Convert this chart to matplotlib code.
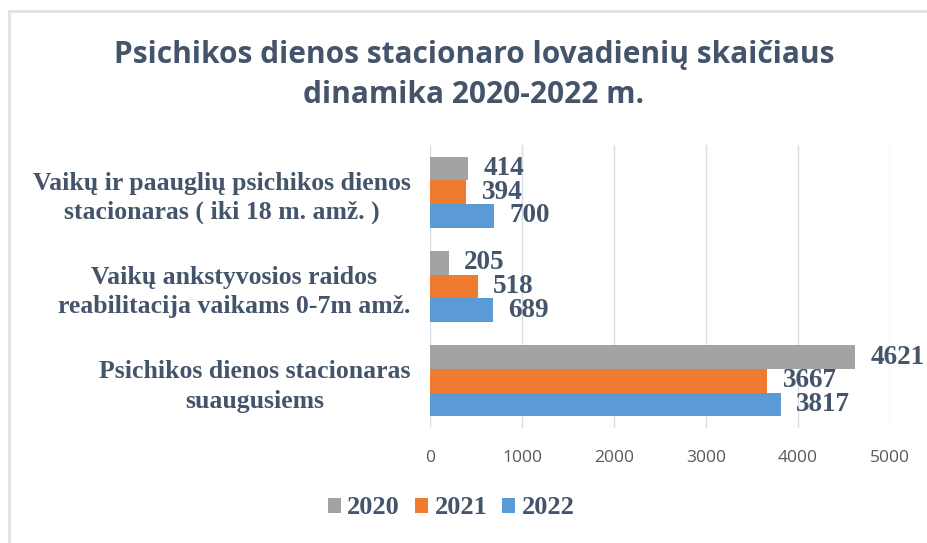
import matplotlib.pyplot as plt
import numpy as np
from matplotlib.patches import Rectangle
from matplotlib.font_manager import FontProperties

categories = [
    "Psichikos dienos stacionaras\nsuaugusiems",
    "Vaikų ankstyvosios raidos\nreabilitacija vaikams 0-7m amž.",
    "Vaikų ir paauglių psichikos dienos\nstacionaras ( iki 18 m. amž. )",
]
years = ["2020", "2021", "2022"]
v2020 = [4621, 205, 414]
v2021 = [3667, 518, 394]
v2022 = [3817, 689, 700]
xticks = [0, 1000, 2000, 3000, 4000, 5000]

colors = ["#A3A3A3", "#EE7B30", "#5B9BD5"]
text_col = "#44546A"
serif = "Liberation Serif"

fig = plt.figure(figsize=(9.28, 5.43), dpi=100)
ax = fig.add_axes([0.4634, 0.2118, 0.4957, 0.5212])

# chart border (cropped on right/bottom like the screenshot)
fig.patches.append(Rectangle((9 / 928, -0.05), 1.1, 1 - 11 / 543 + 0.05,
                             transform=fig.transFigure, fill=False,
                             edgecolor="#DDE2EA", lw=2))

y = np.arange(len(categories))
h = 0.25
series = [v2020, v2021, v2022]
offsets = [h, 0, -h]
for vals, off, c, lab in zip(series, offsets, colors, years):
    bars = ax.barh(y + off, vals, height=h, color=c, label=lab, zorder=3)
    for b, v in zip(bars, vals):
        ax.text(b.get_width() + 165, b.get_y() + h / 2, str(v),
                va="center", ha="left", fontsize=19.5, fontweight="bold",
                family=serif, color=text_col, clip_on=False)

ax.set_xlim(0, 5000)
ax.set_ylim(-0.5, 2.5)
ax.set_xticks(xticks)
ax.set_yticks(y)
ax.set_yticklabels(categories, fontsize=18.5, fontweight="bold", family=serif,
                   color=text_col, multialignment="center", linespacing=1.35)
ax.tick_params(axis="y", length=0, pad=14)
ax.tick_params(axis="x", length=0, pad=16, labelsize=12.5, labelcolor="#595959")
for t in ax.get_xticklabels():
    t.set_family("Open Sans")
ax.grid(axis="x", color="#D9DEE6", lw=1, zorder=0)
for s in ax.spines.values():
    s.set_visible(False)

fig.text(474 / 928, 1 - 75 / 543,
         "Psichikos dienos stacionaro lovadienių skaičiaus\ndinamika 2020-2022 m.",
         ha="center", va="center", fontsize=21.5, fontweight="bold",
         family="Open Sans", color=text_col, linespacing=1.42)

leg_font = FontProperties(family=serif, weight="bold", size=19)
fig.legend(loc="center", bbox_to_anchor=(451 / 928, 1 - 508 / 543), ncol=3,
           frameon=False, handlelength=0.5, handleheight=0.5,
           handletextpad=0.25, columnspacing=0.55,
           prop=leg_font, labelcolor=text_col)

fig.savefig("out.png", dpi=100)
